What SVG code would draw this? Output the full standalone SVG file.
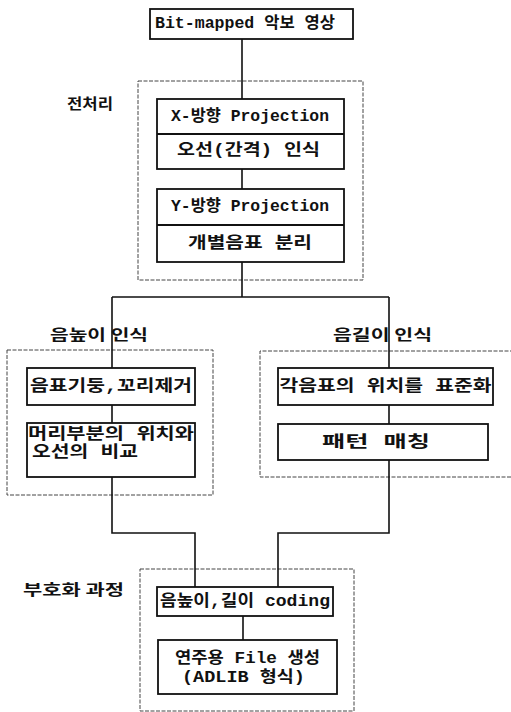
<svg xmlns="http://www.w3.org/2000/svg" width="511" height="712" viewBox="0 0 511 712">
<style>
.t{font-family:"Liberation Mono","Noto Sans CJK KR",monospace;font-weight:bold;font-size:16px;fill:#111;text-anchor:middle;dominant-baseline:central}
.l{font-family:"Noto Sans CJK KR",sans-serif;font-weight:bold;font-size:15px;fill:#111;dominant-baseline:central}
.b{fill:#fff;stroke:#111;stroke-width:1.8}
.d{fill:none;stroke:#444;stroke-width:1;stroke-dasharray:4 1.5}
.c{fill:none;stroke:#111;stroke-width:1.6}
</style>
<rect width="511" height="712" fill="#fff"/>
<g id="groups">
<rect class="d" x="138" y="81" width="225" height="199"/>
<rect class="d" x="7" y="350" width="206" height="145"/>
<path class="d" d="M514 351 H260 V477 H514"/>
<rect class="d" x="140" y="569" width="214" height="142"/>
</g>
<g id="connectors">
<path class="c" d="M242 39 V99 M242 169 V189 M242 262 V297 M112 297 H389 M112 297 V368 M112 405 V423 M112 477 V533 H195 V587 M389 297 V368 M389 405 V424 M389 460 V533 H278 V587 M243 616 V640"/>
</g>
<g id="n0"><rect class="b" x="150" y="9" width="203" height="30"/><text class="t" x="245" y="24" textLength="180" lengthAdjust="spacingAndGlyphs">Bit-mapped 악보 영상</text></g>
<g id="lbl1"><text class="l" x="67" y="102" textLength="46" lengthAdjust="spacingAndGlyphs">전처리</text></g>
<g id="n1"><rect class="b" x="157" y="99" width="187" height="70"/><line class="b" x1="157" y1="134" x2="344" y2="134"/>
<text class="t" x="250" y="116.5" textLength="158" lengthAdjust="spacingAndGlyphs">X-방향 Projection</text>
<text class="t" x="248.5" y="151" textLength="143" lengthAdjust="spacingAndGlyphs">오선(간격) 인식</text></g>
<g id="n2"><rect class="b" x="157" y="189" width="187" height="73"/><line class="b" x1="157" y1="225" x2="344" y2="225"/>
<text class="t" x="250" y="207" textLength="158" lengthAdjust="spacingAndGlyphs">Y-방향 Projection</text>
<text class="t" x="250" y="243.5" textLength="124" lengthAdjust="spacingAndGlyphs">개별음표 분리</text></g>
<g id="lbl2"><text class="l" x="50" y="333" font-size="16" textLength="98" lengthAdjust="spacingAndGlyphs">음높이 인식</text></g>
<g id="lbl3"><text class="l" x="333" y="333" font-size="16" textLength="99" lengthAdjust="spacingAndGlyphs">음길이 인식</text></g>
<g id="n3"><rect class="b" x="27" y="368" width="168" height="37"/><text class="t" x="111" y="386.5" textLength="162" lengthAdjust="spacingAndGlyphs">음표기둥,꼬리제거</text></g>
<g id="n4"><rect class="b" x="27" y="423" width="168" height="54"/>
<text class="t" x="111" y="435" textLength="166" lengthAdjust="spacingAndGlyphs">머리부분의 위치와</text>
<text class="t" x="85" y="453" textLength="106" lengthAdjust="spacingAndGlyphs">오선의 비교</text></g>
<g id="n5"><rect class="b" x="278" y="368" width="215" height="37"/><text class="t" x="385.5" y="387" textLength="212" lengthAdjust="spacingAndGlyphs">각음표의 위치를 표준화</text></g>
<g id="n6"><rect class="b" x="278" y="424" width="210" height="36"/><text class="t" x="376" y="443" textLength="108" lengthAdjust="spacingAndGlyphs">패턴  매칭</text></g>
<g id="lbl4"><text class="l" x="23" y="588" font-size="17" textLength="101" lengthAdjust="spacingAndGlyphs">부호화 과정</text></g>
<g id="n7"><rect class="b" x="157" y="587" width="176" height="29"/><text class="t" x="245" y="601.5" textLength="170" lengthAdjust="spacingAndGlyphs">음높이,길이 coding</text></g>
<g id="n8"><rect class="b" x="158" y="640" width="179" height="54"/>
<text class="t" x="247.5" y="659" textLength="145" lengthAdjust="spacingAndGlyphs">연주용 File 생성</text>
<text class="t" x="243.5" y="678" textLength="123" lengthAdjust="spacingAndGlyphs">(ADLIB 형식)</text></g>
</svg>
